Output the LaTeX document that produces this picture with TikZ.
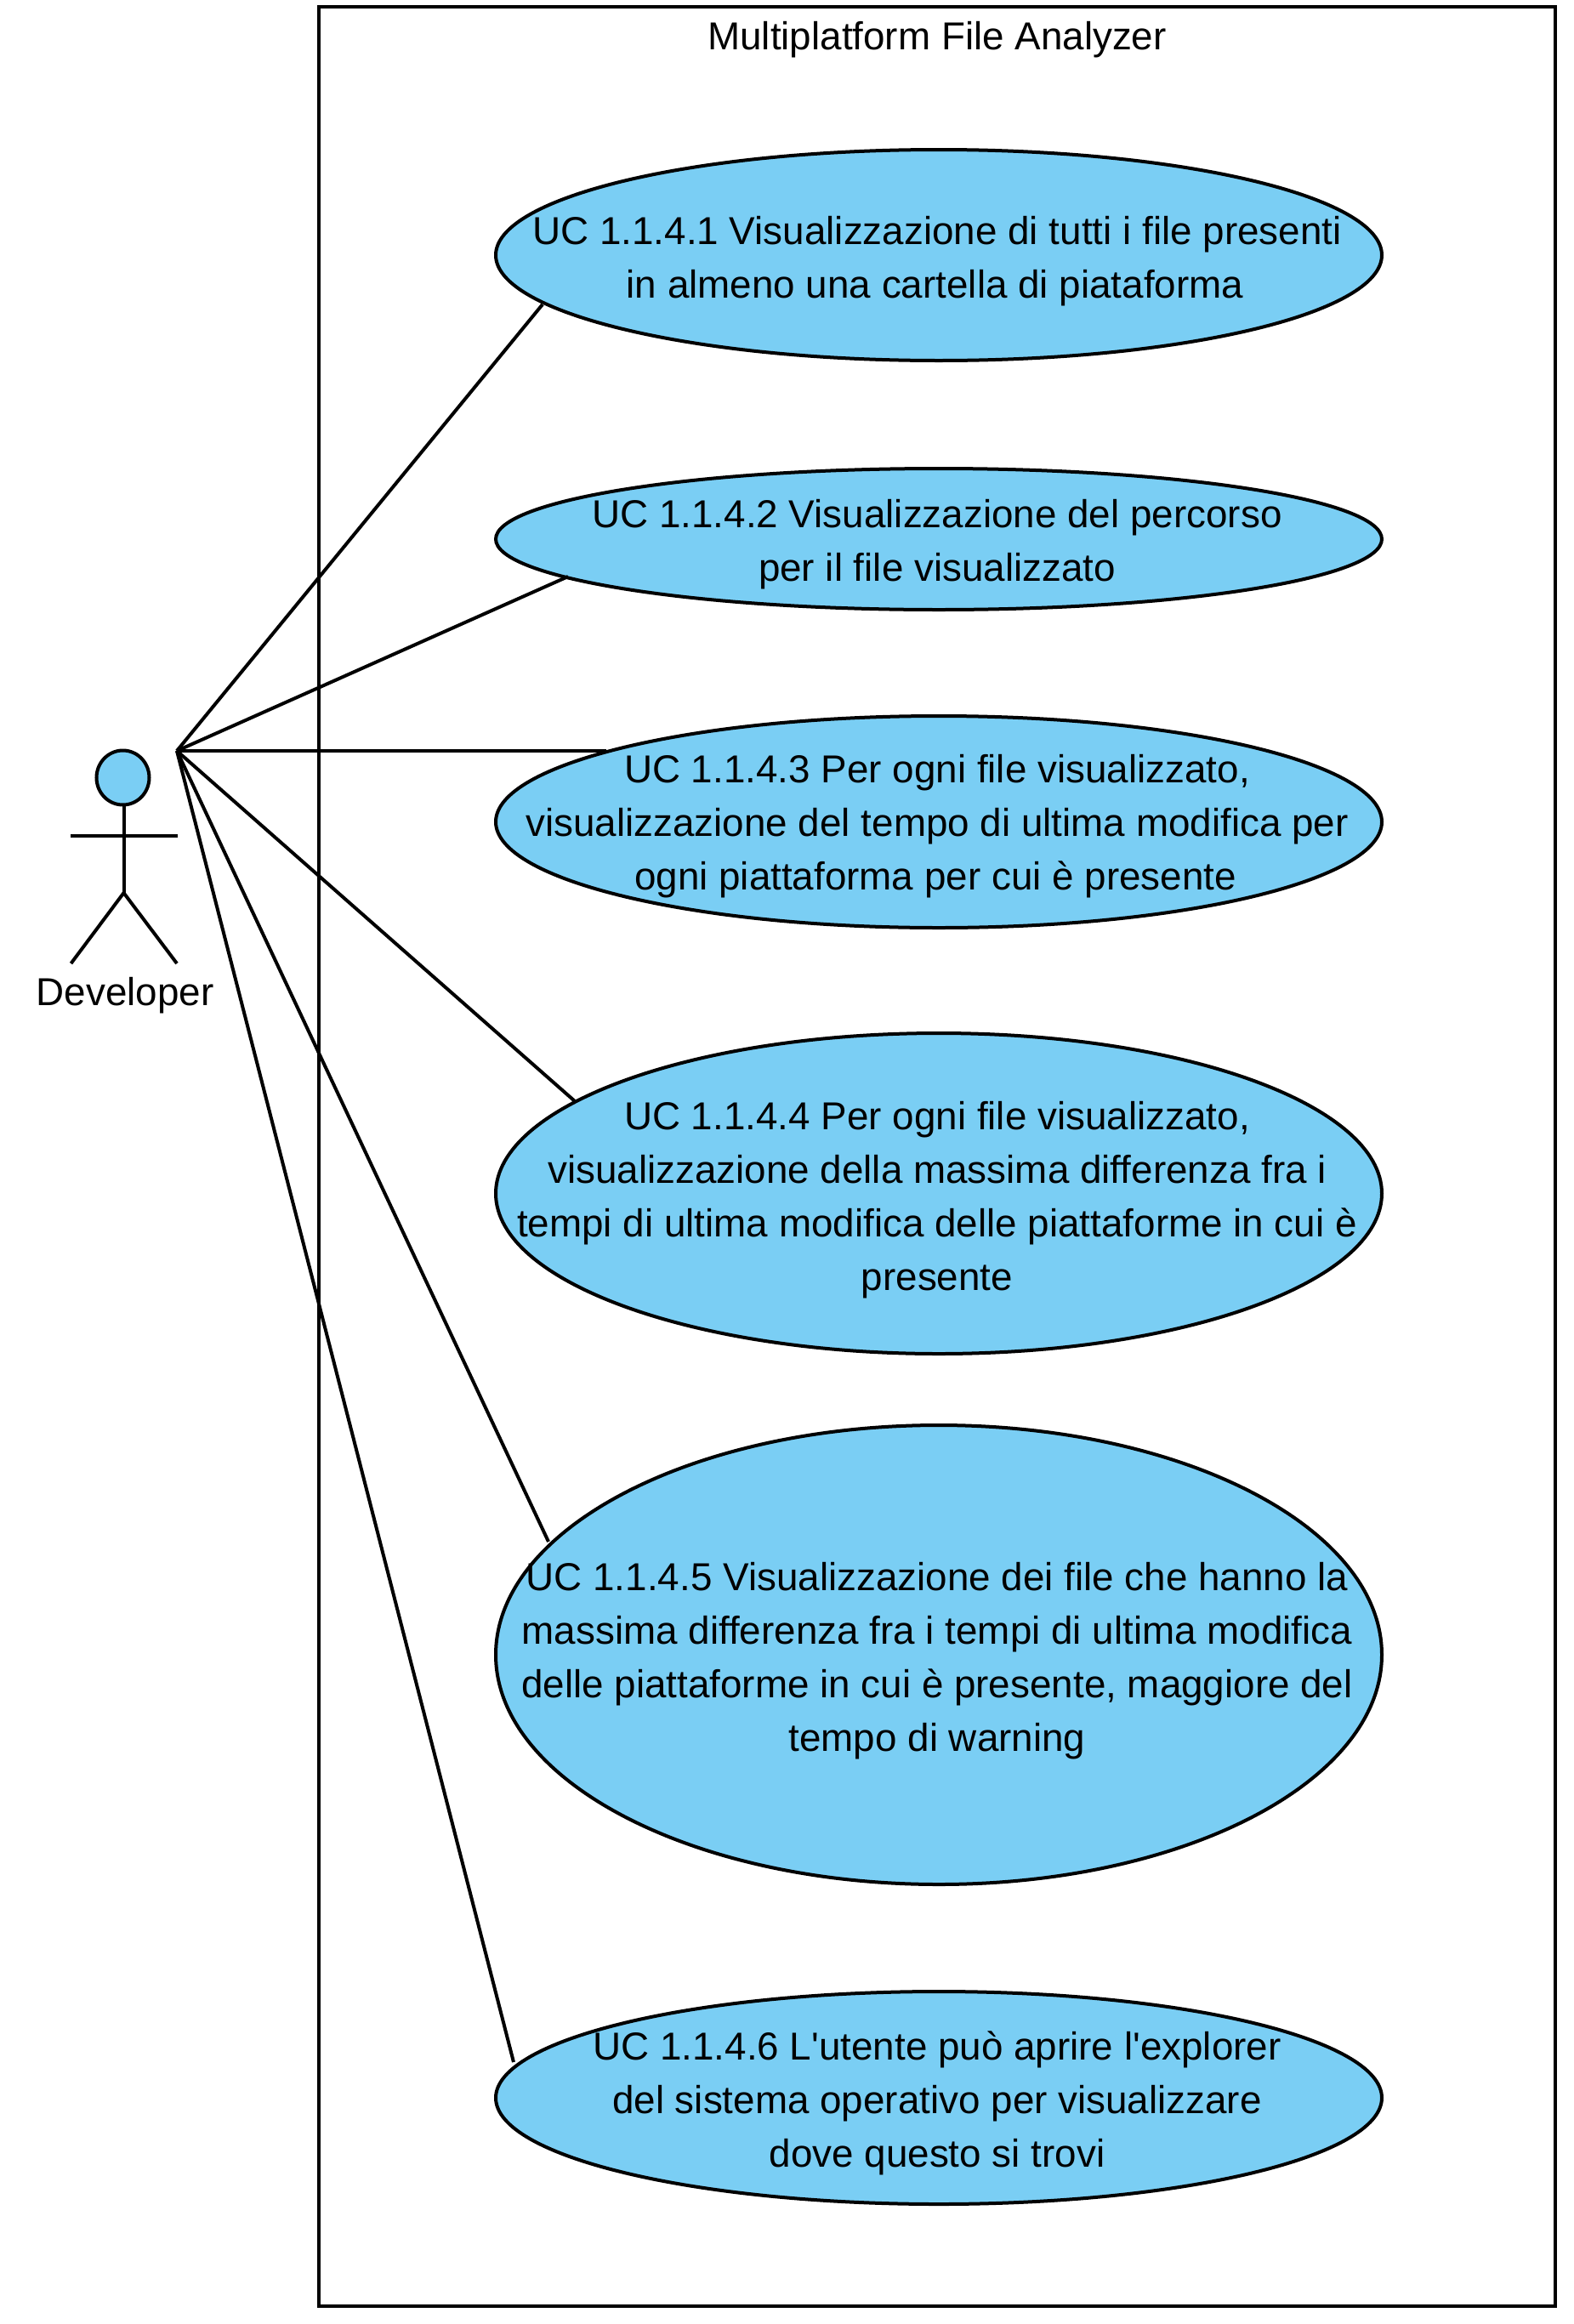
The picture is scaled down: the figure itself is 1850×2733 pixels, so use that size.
\documentclass[tikz,border=0pt]{standalone}
\usepackage{fontspec}
\newfontfamily\ucfont{Liberation Sans}
\usetikzlibrary{shapes.geometric}
\definecolor{ucblue}{HTML}{7ACEF4}
\tikzset{
  every node/.style={inner sep=0pt,outer sep=0pt},
  thickline/.style={line width=4pt,draw=black},
  ucase/.style={ellipse,draw=black,line width=4pt,fill=ucblue,minimum width=1042pt},
  uctext/.style={align=center,font=\ucfont\fontsize{45.8}{63}\selectfont,text=black},
  plainlabel/.style={font=\ucfont\fontsize{45.8}{54}\selectfont,text=black},
  assoc/.style={line width=4pt,draw=black}
}
\begin{document}
\begin{tikzpicture}[x=1pt,y=-1pt]
\useasboundingbox (0,0) rectangle (1850,2733);
\node[thickline,draw,minimum width=1454pt,minimum height=2704pt,anchor=north west] (frame) at (375,8) {};
\node[plainlabel,anchor=base] (title) at (1102,58) {Multiplatform File Analyzer};
% actor
\node[ellipse,draw=black,line width=4pt,fill=ucblue,minimum width=62pt,minimum height=64pt] (head) at (144.5,914.5) {};
\coordinate (neck) at (145.5,947);
\coordinate (hip) at (145.5,1050);
\coordinate (armL) at (83,983);
\coordinate (armR) at (208.5,983);
\coordinate (footL) at (83.5,1133);
\coordinate (footR) at (208,1133);
\coordinate (actor) at (208,883);
\draw[assoc] (neck) -- (hip);
\draw[assoc] (armL) -- (armR);
\draw[assoc] (footL) -- (hip) -- (footR);
\node[plainlabel,anchor=base] (devlabel) at (147,1182) {Developer};
% use cases
\node[ucase,minimum height=248pt] (uc1) at (1104,300) {};
\node[ucase,minimum height=166pt] (uc2) at (1104,634) {};
\node[ucase,minimum height=249pt] (uc3) at (1104,966.5) {};
\node[ucase,minimum height=377pt] (uc4) at (1104,1403.5) {};
\node[ucase,minimum height=540pt] (uc5) at (1104,1946) {};
\node[ucase,minimum height=250pt] (uc6) at (1104,2467) {};
% connectors
\draw[assoc] (actor) -- ([shift={(-466,58)}]uc1.center);
\draw[assoc] (actor) -- ([shift={(-436,44)}]uc2.center);
\draw[assoc] (actor) -- ([shift={(-391.5,-83.5)}]uc3.center);
\draw[assoc] (actor) -- ([shift={(-428,-108.5)}]uc4.center);
\draw[assoc] (actor) -- ([shift={(-459,-133)}]uc5.center);
\draw[assoc] (actor) -- ([shift={(-500,-42)}]uc6.center);
% texts
\node[uctext] (t1) at (1102,307) {UC 1.1.4.1 Visualizzazione di tutti i file presenti\\in almeno una cartella di piataforma\hspace*{5pt}};
\node[uctext] (t2) at (1102,640) {UC 1.1.4.2 Visualizzazione del percorso\\per il file visualizzato};
\node[uctext] (t3) at (1102,972) {UC 1.1.4.3 Per ogni file visualizzato,\\visualizzazione del tempo di ultima modifica per\\ogni piattaforma per cui è presente\hspace*{4pt}};
\node[uctext] (t4) at (1102,1411) {UC 1.1.4.4 Per ogni file visualizzato,\\visualizzazione della massima differenza fra i\\tempi di ultima modifica delle piattaforme in cui è\\presente};
\node[uctext] (t5) at (1102,1953) {UC 1.1.4.5 Visualizzazione dei file che hanno la\\massima differenza fra i tempi di ultima modifica\\delle piattaforme in cui è presente, maggiore del\\tempo di warning};
\node[uctext] (t6) at (1102,2473) {UC 1.1.4.6 L'utente può aprire l'explorer\\del sistema operativo per visualizzare\hspace*{6pt}\\dove questo si trovi};
\end{tikzpicture}
\end{document}
